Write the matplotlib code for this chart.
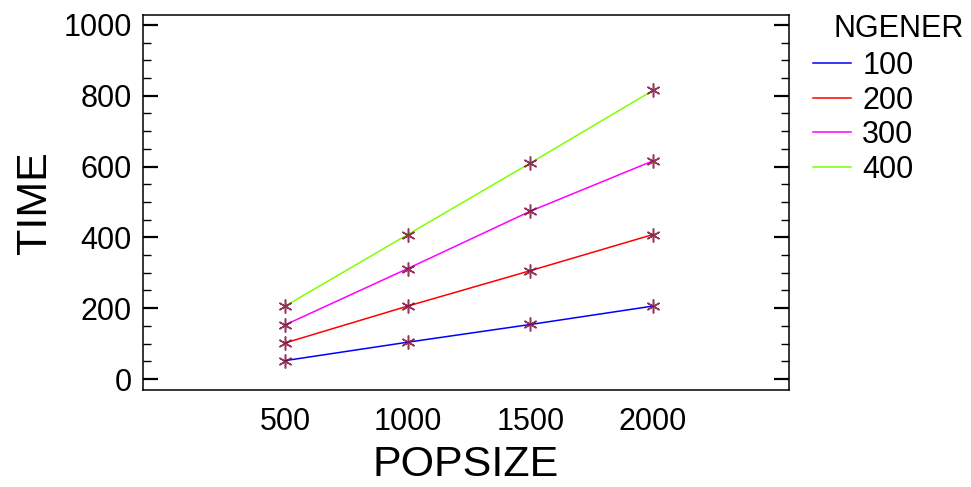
import matplotlib
matplotlib.use("Agg")
import matplotlib.pyplot as plt
from matplotlib.ticker import MultipleLocator

plt.rcParams['font.family'] = ['Liberation Sans', 'DejaVu Sans']

# data
popsize = [500, 1000, 1500, 2000]
ngener = ['100', '200', '300', '400']
time_100 = [52, 104, 154, 206]
time_200 = [102, 206, 306, 408]
time_300 = [153, 312, 474, 616]
time_400 = [206, 408, 610, 815]
series = [time_100, time_200, time_300, time_400]
colors = ['#0000ff', '#ff0000', '#ff00ff', '#80ff00']

fig = plt.figure(figsize=(9.71, 4.87), dpi=100)
ax = fig.add_axes([0.1473, 0.1992, 0.6653, 0.7700])

for vals, c, lab in zip(series, colors, ngener):
    ax.plot(popsize, vals, color=c, lw=1.1, label=lab, zorder=2)
    ax.plot(popsize, vals, ls='none', marker=(6, 2, 0), ms=10, mew=1.1,
            color='#80143f', alpha=0.85, zorder=3)

ax.set_xlim(-80, 2555)
ax.set_ylim(-31, 1028)
ax.set_xticks(popsize)
ax.tick_params(axis='x', length=0, labelsize=22, pad=12)
ax.yaxis.set_major_locator(MultipleLocator(200))
ax.yaxis.set_minor_locator(MultipleLocator(50))
ax.tick_params(axis='y', which='major', direction='in', length=11, width=1.6,
               right=True, labelsize=22, pad=8)
ax.tick_params(axis='y', which='minor', direction='in', length=6, width=1.0,
               right=True)
for s in ax.spines.values():
    s.set_linewidth(1.1)

ax.set_xlabel('POPSIZE', fontsize=31, labelpad=6)
ax.set_ylabel('TIME', fontsize=31, labelpad=6)

# legend title drawn apart so it can sit right of the handles
fig.text(833 / 971, 1 - 29 / 487, 'NGENER', fontsize=22, ha='left', va='center')
fig.legend(loc='upper left', bbox_to_anchor=(813 / 971, 1 - 51 / 487), frameon=False,
           fontsize=22, borderpad=0, borderaxespad=0,
           handlelength=1.25, handletextpad=0.36, labelspacing=0.15)

fig.savefig('out.png', dpi=100)
